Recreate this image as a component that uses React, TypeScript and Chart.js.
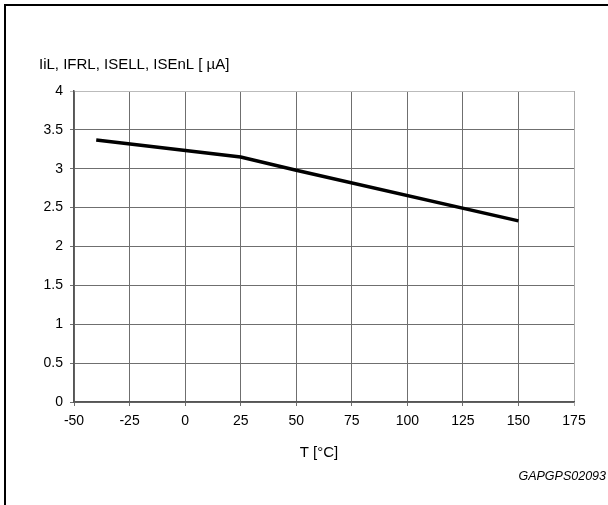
import React, { useEffect, useRef } from "react";
import { Chart, registerables } from "chart.js";

Chart.register(...registerables);

const temperatureC: number[] = [-40, 25, 50, 150];
const currentUA: number[] = [3.37, 3.15, 2.98, 2.33];

const xTickStep = 25;
const xMin = -50;
const xMax = 175;
const yTickStep = 0.5;
const yMin = 0;
const yMax = 4;

const yTitle = "IiL, IFRL, ISELL, ISEnL [ µA]";
const xTitle = "T [°C]";
const figureCode = "GAPGPS02093";

const FONT = "'Liberation Sans', Arial, Helvetica, sans-serif";

export default function App() {
  const ref = useRef<HTMLCanvasElement | null>(null);

  useEffect(() => {
    document.body.style.margin = "0";
    const canvas = ref.current;
    if (!canvas) return;

    const textPlugin = {
      id: "texts",
      beforeDraw(chart: any) {
        const ctx = chart.ctx as CanvasRenderingContext2D;
        ctx.save();
        ctx.fillStyle = "#fff";
        ctx.fillRect(0, 0, chart.width, chart.height);
        ctx.fillStyle = "#000";
        ctx.fillRect(4, 4, chart.width - 4, 2);
        ctx.fillRect(4, 4, 2, chart.height - 4);
        ctx.restore();
      },
      afterDraw(chart: any) {
        const ctx = chart.ctx as CanvasRenderingContext2D;
        const area = chart.chartArea;
        ctx.save();
        ctx.fillStyle = "#000";
        ctx.textBaseline = "middle";
        ctx.font = `15px ${FONT}`;
        ctx.textAlign = "left";
        ctx.fillText(yTitle, 39, 65);
        ctx.textAlign = "center";
        ctx.fillText(xTitle, (area.left + area.right) / 2 - 5, 453);
        ctx.font = `italic 12.5px ${FONT}`;
        ctx.textAlign = "right";
        ctx.fillText(figureCode, 606, 477);
        ctx.restore();
      },
    };

    const chart = new Chart(canvas, {
      type: "scatter",
      data: {
        datasets: [
          {
            data: temperatureC.map((t, i) => ({ x: t, y: currentUA[i] })),
            showLine: true,
            borderColor: "#000",
            backgroundColor: "#000",
            borderWidth: 3.5,
            pointRadius: 0,
            tension: 0,
          },
        ],
      },
      options: {
        responsive: false,
        animation: false,
        layout: { padding: { top: 91, right: 34, left: 0, bottom: 0 } },
        plugins: {
          legend: { display: false },
          tooltip: { enabled: false },
          title: { display: false },
        },
        scales: {
          x: {
            type: "linear",
            min: xMin,
            max: xMax,
            afterFit: (scale: any) => {
              scale.height = 103;
            },
            ticks: {
              stepSize: xTickStep,
              color: "#000",
              padding: 7,
              maxRotation: 0,
              font: { family: FONT, size: 14 },
              callback: (v: any) => String(v),
            },
            grid: {
              color: (c: any) => (c.tick && c.tick.value === xMax ? "#aaa" : "#6f6f6f"),
              lineWidth: 1,
              tickLength: 4,
              drawTicks: true,
            },
            border: { display: true, color: "#555", width: 1.5 },
          },
          y: {
            type: "linear",
            min: yMin,
            max: yMax,
            afterFit: (scale: any) => {
              scale.width = 74;
            },
            ticks: {
              stepSize: yTickStep,
              color: "#000",
              padding: 7,
              font: { family: FONT, size: 14 },
              callback: (v: any) => String(Number(v)),
            },
            grid: {
              color: (c: any) => (c.tick && c.tick.value === yMax ? "#bbb" : "#6f6f6f"),
              lineWidth: 1,
              tickLength: 4,
              drawTicks: true,
            },
            border: { display: true, color: "#555", width: 1.5 },
          },
        },
      },
      plugins: [textPlugin],
    });

    return () => chart.destroy();
  }, []);

  return (
    <div style={{ position: "absolute", left: 0, top: 0, width: 608, height: 505 }}>
      <canvas ref={ref} width={608} height={505} style={{ display: "block" }} />
    </div>
  );
}
